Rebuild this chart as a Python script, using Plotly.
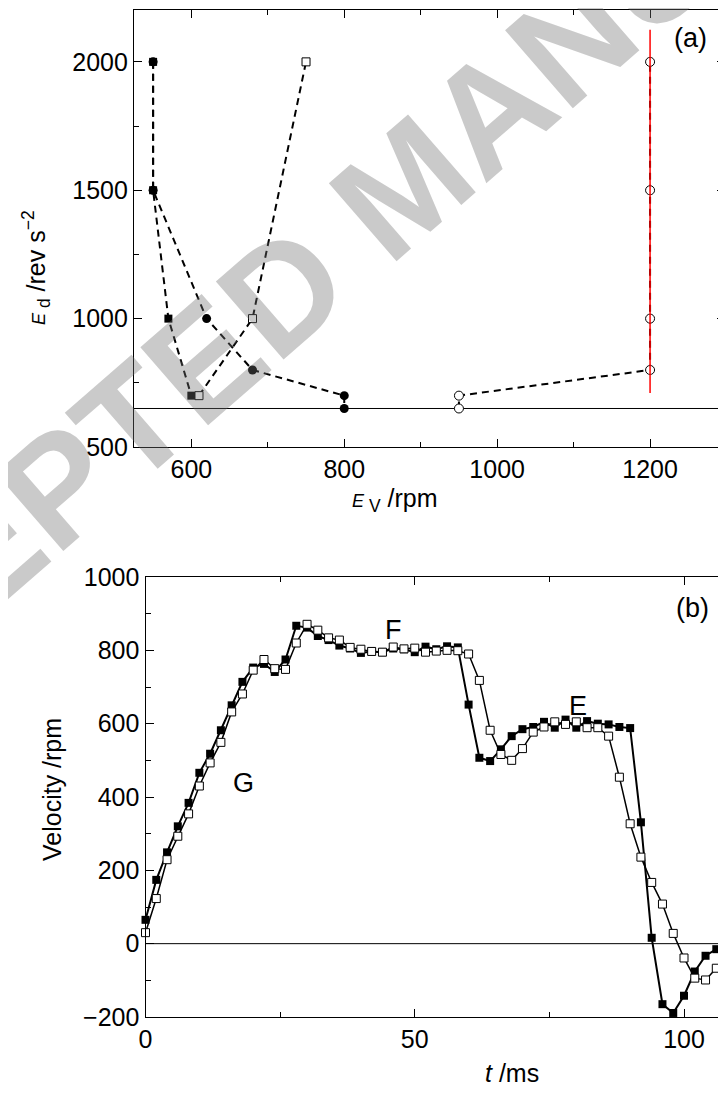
import plotly.graph_objects as go

# ---------------- Panel (a) data ----------------
a_fsq_x = [550, 550, 570, 600]
a_fsq_y = [2000, 1500, 1000, 700]
a_fci_x = [550, 550, 620, 680, 800, 800]
a_fci_y = [2000, 1500, 1000, 800, 700, 650]
a_osq_x = [610, 680, 750]
a_osq_y = [700, 1000, 2000]
a_oci_x = [950, 950, 1200, 1200, 1200, 1200]
a_oci_y = [650, 700, 800, 1000, 1500, 2000]
a_red_x = [1200, 1200]
a_red_y = [710, 2125]
a_hline = 650

# ---------------- Panel (b) data ----------------
t_ms = [0, 2, 4, 6, 8, 10, 12, 14, 16, 18, 20, 22, 24, 26, 28, 30, 32, 34, 36, 38,
        40, 42, 44, 46, 48, 50, 52, 54, 56, 58, 60, 62, 64, 66, 68, 70, 72, 74, 76, 78,
        80, 82, 84, 86, 88, 90, 92, 94, 96, 98, 100, 102, 104, 106, 108]
v_filled = [65, 174, 249, 320, 384, 466, 518, 582, 650, 714, 753, 763, 741, 775, 867, 862, 839, 828, 813, 805,
            793, 797, 795, 805, 803, 795, 810, 803, 811, 808, 652, 507, 498, 530, 566, 585, 591, 605, 589, 611,
            589, 607, 600, 598, 591, 588, 331, 16, -165, -189, -142, -76, -33, -15, -10]
v_open = [30, 123, 229, 293, 354, 430, 493, 549, 632, 681, 746, 775, 750, 748, 820, 871, 855, 834, 828, 808,
          803, 797, 795, 809, 804, 806, 795, 798, 800, 799, 790, 718, 582, 516, 500, 532, 577, 591, 605, 598,
          605, 589, 589, 566, 454, 327, 236, 167, 108, 28, -39, -94, -99, -67, -30]

W, H = 726, 1099
OFF = 8  # page body margin of the html page
FONT = "Liberation Sans, Arial, sans-serif"

def px(x):
    return (x - OFF) / W

def py(y):
    return 1 - (y - OFF) / H

fig = go.Figure()

dash = "7px,5px"
# panel (a) traces
fig.add_trace(go.Scatter(x=[525, 1300], y=[a_hline, a_hline], mode="lines",
                         line=dict(color="black", width=1), xaxis="x", yaxis="y", showlegend=False))
fig.add_trace(go.Scatter(x=a_fsq_x, y=a_fsq_y, mode="lines+markers",
                         line=dict(color="black", width=2, dash=dash),
                         marker=dict(symbol="square", size=8, color="black"),
                         xaxis="x", yaxis="y", showlegend=False))
fig.add_trace(go.Scatter(x=a_fci_x, y=a_fci_y, mode="lines+markers",
                         line=dict(color="black", width=2, dash=dash),
                         marker=dict(symbol="circle", size=9, color="black"),
                         xaxis="x", yaxis="y", showlegend=False))
fig.add_trace(go.Scatter(x=a_osq_x, y=a_osq_y, mode="lines+markers",
                         line=dict(color="black", width=2, dash=dash),
                         marker=dict(symbol="square", size=8, color="white",
                                     line=dict(color="black", width=1)),
                         xaxis="x", yaxis="y", showlegend=False))
fig.add_trace(go.Scatter(x=a_oci_x, y=a_oci_y, mode="lines+markers",
                         line=dict(color="black", width=2, dash=dash),
                         marker=dict(symbol="circle", size=9, color="white",
                                     line=dict(color="black", width=1)),
                         xaxis="x", yaxis="y", showlegend=False))
fig.add_trace(go.Scatter(x=a_red_x, y=a_red_y, mode="lines",
                         line=dict(color="red", width=1.5),
                         xaxis="x", yaxis="y", showlegend=False))

# panel (b) traces
fig.add_trace(go.Scatter(x=[-5, 120], y=[0, 0], mode="lines",
                         line=dict(color="black", width=1), xaxis="x2", yaxis="y2", showlegend=False))
fig.add_trace(go.Scatter(x=t_ms, y=v_filled, mode="lines+markers",
                         line=dict(color="black", width=2),
                         marker=dict(symbol="square", size=8, color="black"),
                         xaxis="x2", yaxis="y2", showlegend=False, cliponaxis=False))
fig.add_trace(go.Scatter(x=t_ms, y=v_open, mode="lines+markers",
                         line=dict(color="black", width=1.5),
                         marker=dict(symbol="square", size=8, color="white",
                                     line=dict(color="black", width=1)),
                         xaxis="x2", yaxis="y2", showlegend=False, cliponaxis=False))

axcommon = dict(showgrid=False, zeroline=False, showline=True, linecolor="black", linewidth=1.2,
                ticks="inside", ticklen=8, tickwidth=1.2, tickcolor="black",
                tickfont=dict(family=FONT, size=25, color="black"))

fig.update_layout(
    width=W, height=H, margin=dict(l=0, r=0, t=0, b=0, autoexpand=False),
    plot_bgcolor="white", paper_bgcolor="white", showlegend=False,
    xaxis=dict(domain=[px(134), px(725)], anchor="y", range=[525, 1298],
               tickvals=[600, 800, 1000, 1200], mirror="ticks",
               minor=dict(tickvals=[700, 900, 1100], ticks="inside", ticklen=5, tickcolor="black"),
               **axcommon),
    yaxis=dict(domain=[py(447), py(10)], anchor="x", range=[500, 2202],
               tickvals=[500, 1000, 1500, 2000], mirror="ticks",
               minor=dict(tickvals=[750, 1250, 1750], ticks="inside", ticklen=5, tickcolor="black"),
               **axcommon),
    xaxis2=dict(domain=[px(145.5), 1.0], anchor="y2", range=[0, (734 - 145.5) / 5.385],
                tickvals=[0, 50, 100], mirror="ticks",
                minor=dict(tickvals=[25, 75], ticks="inside", ticklen=5, tickcolor="black"),
                **axcommon),
    yaxis2=dict(domain=[py(1017), py(577)], anchor="x2", range=[-200, 1000],
                tickvals=[-200, 0, 200, 400, 600, 800, 1000],
                ticktext=["\u2212200", "0", "200", "400", "600", "800", "1000"],
                mirror=False,
                minor=dict(tickvals=[-100, 100, 300, 500, 700, 900], ticks="inside", ticklen=5, tickcolor="black"),
                **axcommon),
)

def ann(x, y, text, size=24, angle=0, color="black", family=FONT):
    fig.add_annotation(x=px(x), y=py(y), xref="paper", yref="paper", text=text,
                       showarrow=False, textangle=angle, xanchor="center", yanchor="middle",
                       font=dict(family=family, size=size, color=color))

# watermark (translucent so the marks underneath stay dark)
fig.add_annotation(x=px(405), y=py(185), xref="paper", yref="paper", text="<b>ACCEPTED MANUSCRIPT</b>",
                   showarrow=False, textangle=-41, xanchor="center", yanchor="middle",
                   font=dict(family=FONT, size=150, color="rgba(110,110,110,0.37)"))

ann(36, 268, "<i><span style='font-size:18px'>E</span></i><sub> d</sub> /rev s<sup>\u22122</sup>", size=25, angle=-90)
ann(395, 500, "<i><span style='font-size:18px'>E</span></i><sub> V</sub> /rpm", size=25)
ann(52, 790, "Velocity /rpm", size=25, angle=-90)
ann(512, 1073, "<i>t</i> /ms", size=25)
ann(690, 38, "(a)", size=27)
ann(692, 608, "(b)", size=27)
ann(243, 783, "G", size=27)
ann(393, 630, "F", size=27)
ann(578, 706, "E", size=27)

fig.write_html("out.html")
